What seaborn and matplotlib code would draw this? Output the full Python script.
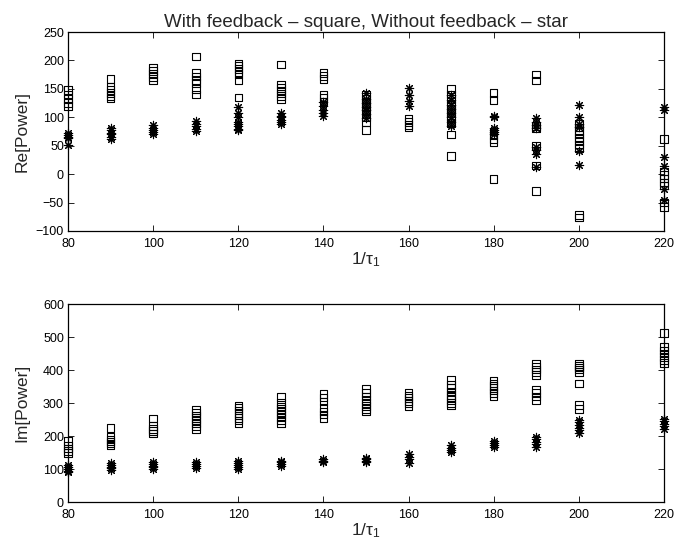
import matplotlib
matplotlib.use("Agg")
import matplotlib.pyplot as plt
import seaborn as sns
import pandas as pd

# Re[Power] samples per 1/tau_1 setting
re_with_feedback = {
    80: [148, 140, 132, 125, 120],
    90: [167, 153, 148, 143, 138, 133],
    100: [187, 182, 176, 171, 165],
    110: [207, 178, 172, 166, 160, 150, 140],
    120: [195, 190, 185, 180, 175, 165, 135],
    130: [193, 158, 152, 147, 142, 137, 132],
    140: [178, 173, 167, 140, 135, 128],
    150: [140, 132, 125, 118, 110, 100, 92, 78],
    160: [97, 92, 87, 82],
    170: [150, 140, 132, 122, 115, 108, 100, 90, 70, 32],
    180: [143, 130, 75, 68, 62, 57, -9],
    190: [175, 165, 85, 80, 50, 15, -30],
    200: [88, 82, 76, 70, 64, 58, 52, 46, -72, -76],
    220: [62, 5, -2, -8, -15, -20, -50, -58],
}
re_without_feedback = {
    80: [72, 68, 66, 63, 52],
    90: [82, 77, 73, 70, 66, 62],
    100: [87, 82, 78, 74, 70],
    110: [93, 88, 84, 80, 76],
    120: [118, 108, 100, 92, 88, 85, 80, 77],
    130: [108, 103, 100, 96, 92, 89],
    140: [127, 120, 113, 108, 103],
    150: [142, 132, 125, 118, 112, 105, 98],
    160: [152, 140, 128, 120],
    170: [140, 130, 122, 115, 108, 100, 92, 85],
    180: [102, 100, 82, 78, 74, 70],
    190: [98, 92, 86, 82, 48, 42, 36, 12],
    200: [122, 100, 88, 83, 40, 16],
    220: [118, 113, 31, 15, -27, -45],
}

# Im[Power] samples per 1/tau_1 setting
im_with_feedback = {
    80: [185, 172, 162, 155, 148],
    90: [225, 197, 190, 183, 177, 172],
    100: [253, 230, 222, 215, 208],
    110: [280, 272, 263, 255, 247, 238, 230, 222],
    120: [292, 285, 278, 270, 262, 255, 247, 240],
    130: [318, 300, 290, 282, 273, 265, 256, 247, 238],
    140: [328, 317, 305, 285, 275, 265, 255],
    150: [342, 330, 320, 310, 300, 292, 283, 275],
    160: [330, 322, 315, 307, 300, 292],
    170: [370, 355, 345, 335, 325, 318, 310, 300, 293],
    180: [368, 360, 352, 345, 338, 330, 322],
    190: [418, 410, 402, 395, 385, 340, 330, 320, 310],
    200: [418, 413, 408, 402, 395, 360, 295, 282],
    220: [512, 470, 460, 450, 440, 430, 422],
}
im_without_feedback = {
    80: [112, 105, 100, 95, 90],
    90: [118, 112, 107, 102, 96],
    100: [122, 115, 110, 105, 100],
    110: [120, 114, 109, 104],
    120: [125, 118, 112, 106, 100],
    130: [125, 120, 115, 110],
    140: [130, 125, 120],
    150: [135, 130, 125, 120],
    160: [145, 138, 132, 118],
    170: [172, 165, 158, 152],
    180: [185, 178, 172, 166],
    190: [198, 190, 183, 176, 168],
    200: [250, 242, 234, 226, 218, 210],
    220: [252, 245, 238, 230, 222],
}

x_ticks = [80, 100, 120, 140, 160, 180, 200, 220]
re_ticks = [-100, -50, 0, 50, 100, 150, 200, 250]
im_ticks = [0, 100, 200, 300, 400, 500, 600]


def to_frame(samples):
    rows = [(x, v) for x, vals in samples.items() for v in vals]
    return pd.DataFrame(rows, columns=["inv_tau", "power"])


sns.set_style("ticks")
plt.rcParams["font.family"] = ["Liberation Sans", "DejaVu Sans"]
plt.rcParams["mathtext.fontset"] = "custom"
plt.rcParams["mathtext.rm"] = "Liberation Sans"
plt.rcParams["mathtext.it"] = "Liberation Sans"

fig = plt.figure(figsize=(6.74, 5.48), dpi=100)
ax_re = fig.add_axes([0.101, 0.5785, 0.884, 0.363])
ax_im = fig.add_axes([0.101, 0.0839, 0.884, 0.361])

panels = [
    (ax_re, re_with_feedback, re_without_feedback, (-100, 250), re_ticks, "Re[Power]"),
    (ax_im, im_with_feedback, im_without_feedback, (0, 600), im_ticks, "Im[Power]"),
]

for ax, sq, st, ylim, yticks, ylabel in panels:
    sns.scatterplot(data=to_frame(sq), x="inv_tau", y="power", ax=ax,
                    marker="s", s=30, facecolor="none", edgecolor="black",
                    linewidth=0.8, clip_on=False, zorder=3)
    sns.scatterplot(data=to_frame(st), x="inv_tau", y="power", ax=ax,
                    marker=(8, 2, 0), s=36, color="black",
                    linewidth=0.8, clip_on=False, zorder=3)
    ax.set_xlim(80, 220)
    ax.set_ylim(*ylim)
    ax.set_xticks(x_ticks)
    ax.set_yticks(yticks)
    ax.tick_params(direction="in", top=True, right=True, length=4,
                   width=0.6, labelsize=9, colors="black")
    ax.tick_params(axis="x", pad=5)
    ax.tick_params(axis="y", pad=3)
    for sp in ax.spines.values():
        sp.set_visible(True)
        sp.set_linewidth(0.9)
        sp.set_color("black")
    ax.set_xlabel("1/$\\mathregular{\\tau_1}$", fontsize=12.5, labelpad=0)
    ax.set_ylabel(ylabel, fontsize=12.5)
    ax.yaxis.set_label_coords(-0.065, 0.5)

ax_re.set_title("With feedback \u2013 square, Without feedback \u2013 star",
                fontsize=13.5, pad=4)

fig.savefig("out.png", dpi=100, facecolor="white")
